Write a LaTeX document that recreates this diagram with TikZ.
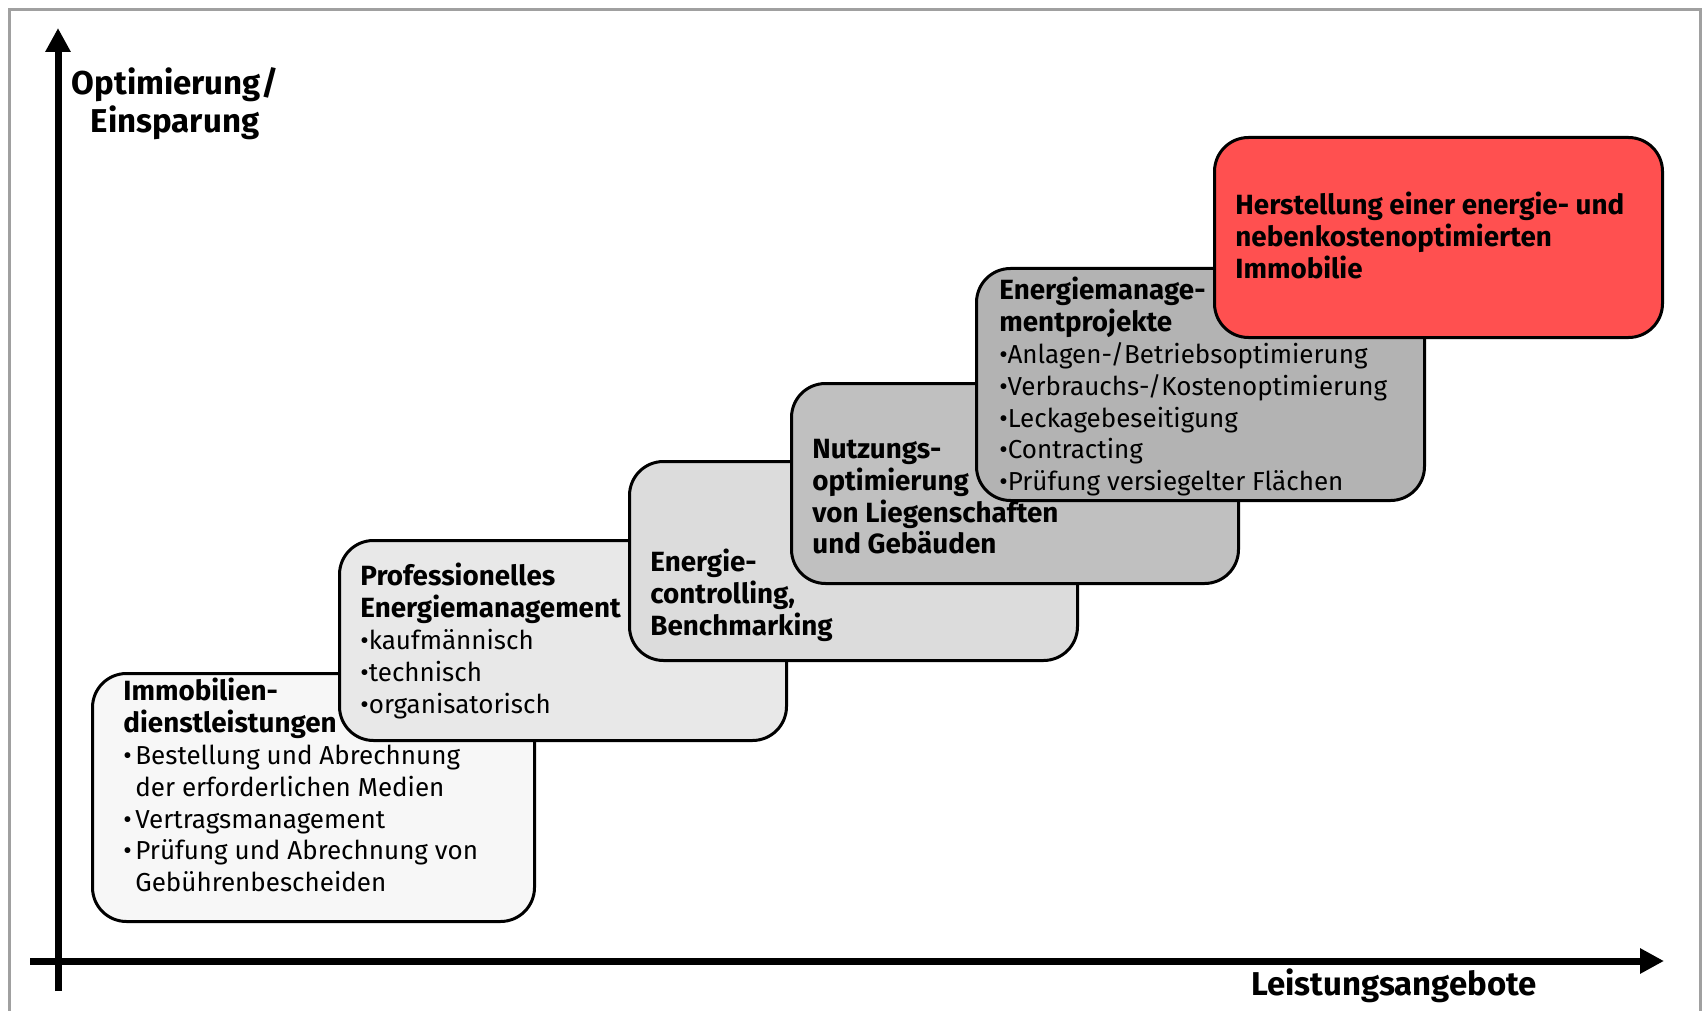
\documentclass[tikz,border=0pt]{standalone}
\usepackage{fontspec}
\setmainfont{Fira Sans}
\usetikzlibrary{arrows.meta}
\definecolor{framegrey}{HTML}{A0A0A0}
\definecolor{gA}{HTML}{F7F7F7}
\definecolor{gB}{HTML}{E8E8E8}
\definecolor{gC}{HTML}{DCDCDC}
\definecolor{gD}{HTML}{C0C0C0}
\definecolor{gE}{HTML}{B3B3B3}
\definecolor{redF}{HTML}{FF5050}
\newcommand{\ibul}{\makebox[6pt][l]{\textbullet}}
\newcommand{\fst}{\rule{0pt}{10pt}}
\newcommand{\hd}[1]{{\fontsize{13.9}{15.9}\selectfont\bfseries #1}}
\begin{document}
\begin{tikzpicture}[x=0.5pt,y=-0.5pt,
  stage/.style={draw=black, line width=1.5pt, rounded corners=17pt, anchor=north west, inner sep=0pt},
  txt/.style={anchor=north west, inner sep=0pt, align=left, font=\fontsize{13}{15.9}\selectfont},
  btxt/.style={txt, font=\fontsize{13.9}{15.9}\selectfont\bfseries},
  axis/.style={line width=3.5pt, -{Triangle[length=12pt,width=12pt]}},
  axlabel/.style={font=\fontsize{16.5}{19}\selectfont\bfseries, inner sep=0pt, align=center}
]
\useasboundingbox (0,0) rectangle (1705,1011);
\fill[white] (0,0) rectangle (1705,1011);
% frame
\draw[framegrey, line width=1.5pt] (9,1015) -- (9,10) -- (1700,10) -- (1700,1015);

% boxes
\node[stage, fill=gA, minimum width=221pt, minimum height=124pt] (b1) at (91,672) {};
\node[txt] (t1) at (123,678) {\hd{\fst Immobilien-}\\\hd{dienstleistungen}\\\ibul Bestellung und Abrechnung\\\hspace*{6pt}der erforderlichen Medien\\\ibul Vertragsmanagement\\\ibul Prüfung und Abrechnung von\\\hspace*{6pt}Gebührenbescheiden};

\node[stage, fill=gB, minimum width=223.5pt, minimum height=100pt] (b2) at (338,539) {};
\node[txt] (t2) at (360,563) {\hd{\fst Professionelles}\\\hd{Energiemanagement}\\\textbullet kaufmännisch\\\textbullet technisch\\\textbullet organisatorisch};

\node[stage, fill=gC, minimum width=224pt, minimum height=99.5pt] (b3) at (628,460) {};
\node[btxt] (t3) at (650,549) {\fst Energie-\\controlling,\\Benchmarking};

\node[stage, fill=gD, minimum width=223.5pt, minimum height=100pt] (b4) at (790,382) {};
\node[btxt] (t4) at (812,438) {\fst Nutzungs-\\optimierung\\von Liegenschaften\\und Gebäuden};

\node[stage, fill=gE, minimum width=224pt, minimum height=116pt] (b5) at (975,267) {};
\node[txt] (t5) at (999,277) {\hd{\fst Energiemanage-}\\\hd{mentprojekte}\\\textbullet Anlagen-/Betriebsoptimierung\\\textbullet Verbrauchs-/Kostenoptimierung\\\textbullet Leckagebeseitigung\\\textbullet Contracting\\\textbullet Prüfung versiegelter Flächen};

\node[stage, fill=redF, minimum width=224pt, minimum height=100pt] (b6) at (1213,136) {};
\node[btxt] (t6) at (1235,192) {\fst Herstellung einer energie- und\\nebenkostenoptimierten\\Immobilie};

% axes
\coordinate (yfrom) at (58,991);
\coordinate (ytip) at (58,28);
\coordinate (xfrom) at (30,961);
\coordinate (xtip) at (1664,961);
\draw[axis] (xfrom) -- (xtip);
\draw[axis] (yfrom) -- (ytip);

\node[axlabel] (ylab) at (175,104) {Optimierung/\\Einsparung};
\node[axlabel] (xlab) at (1394,986) {Leistungsangebote};
\end{tikzpicture}
\end{document}
